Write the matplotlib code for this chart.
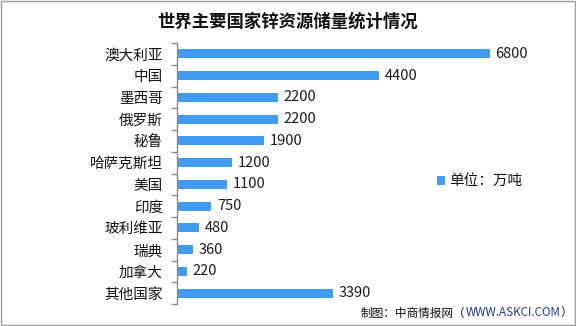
import matplotlib
matplotlib.use("Agg")
import matplotlib.pyplot as plt
from matplotlib.patches import Rectangle

plt.rcParams['font.family'] = ['Noto Sans CJK SC', 'DejaVu Sans']

categories = ["澳大利亚", "中国", "墨西哥", "俄罗斯", "秘鲁", "哈萨克斯坦", "美国",
              "印度", "玻利维亚", "瑞典", "加拿大", "其他国家"]
values = [6800, 4400, 2200, 2200, 1900, 1200, 1100, 750, 480, 360, 220, 3390]
title = "世界主要国家锌资源储量统计情况"
legend_label = "单位：万吨"
bar_color = "#419BF0"

fig = plt.figure(figsize=(5.76, 3.26), dpi=100)
ax = fig.add_axes([0.307, 0.0675, 0.639, 0.8005])

y = list(range(len(categories)))
ax.barh(y, values, height=0.41, color=bar_color, label=legend_label, zorder=2)
ax.set_xlim(0, 8000)
ax.set_ylim(len(categories) - 0.5, -0.5)

for yi, v in zip(y, values):
    ax.annotate(f"{v}", xy=(v, yi), xytext=(4, 0), textcoords="offset points",
                va="center", ha="left", fontsize=10.5, color="#1a1a1a")

# ticks at category boundaries, labels at centers
ax.set_yticks([i - 0.5 for i in range(len(categories) + 1)])
ax.set_yticklabels([])
ax.tick_params(axis="y", which="major", length=4, color="#8c8c8c", width=1)
ax.set_yticks(y, minor=True)
ax.set_yticklabels(categories, minor=True, fontsize=10.5, color="#111111")
ax.tick_params(axis="y", which="minor", length=0, pad=10)
ax.set_xticks([])

for s in ["top", "right", "bottom"]:
    ax.spines[s].set_visible(False)
ax.spines["left"].set_color("#8c8c8c")
ax.spines["left"].set_linewidth(1)

fig.text(0.5, 0.933, title, ha="center", va="center", fontsize=12.5,
         fontweight="bold", color="#111111")

# legend
fig.patches.append(Rectangle((437 / 576, 1 - 185 / 326), 8 / 576, 9 / 326,
                             transform=fig.transFigure, facecolor=bar_color,
                             edgecolor="none"))
fig.text(449 / 576, 1 - 181 / 326, legend_label, ha="left", va="center",
         fontsize=10.5, color="#111111")

# source, built right to left
fs = 8.4
t3 = fig.text(572 / 576, 1 - 313 / 326, "）", ha="right", va="center",
              fontsize=fs, color="#111111")
a2 = ax.annotate("WWW.ASKCI.COM", xy=(0, 0.5), xycoords=t3, ha="right", va="center",
                 fontsize=fs, color="#1F3C88", annotation_clip=False)
ax.annotate("制图：中商情报网（", xy=(0, 0.5), xycoords=a2, ha="right", va="center",
            fontsize=fs, color="#111111", annotation_clip=False)

# figure border
fig.patches.append(Rectangle((0.001, 0.002), 0.997, 0.996, transform=fig.transFigure,
                             facecolor="none", edgecolor="#9a9a9a", linewidth=1))

fig.savefig("out.png", dpi=100)
